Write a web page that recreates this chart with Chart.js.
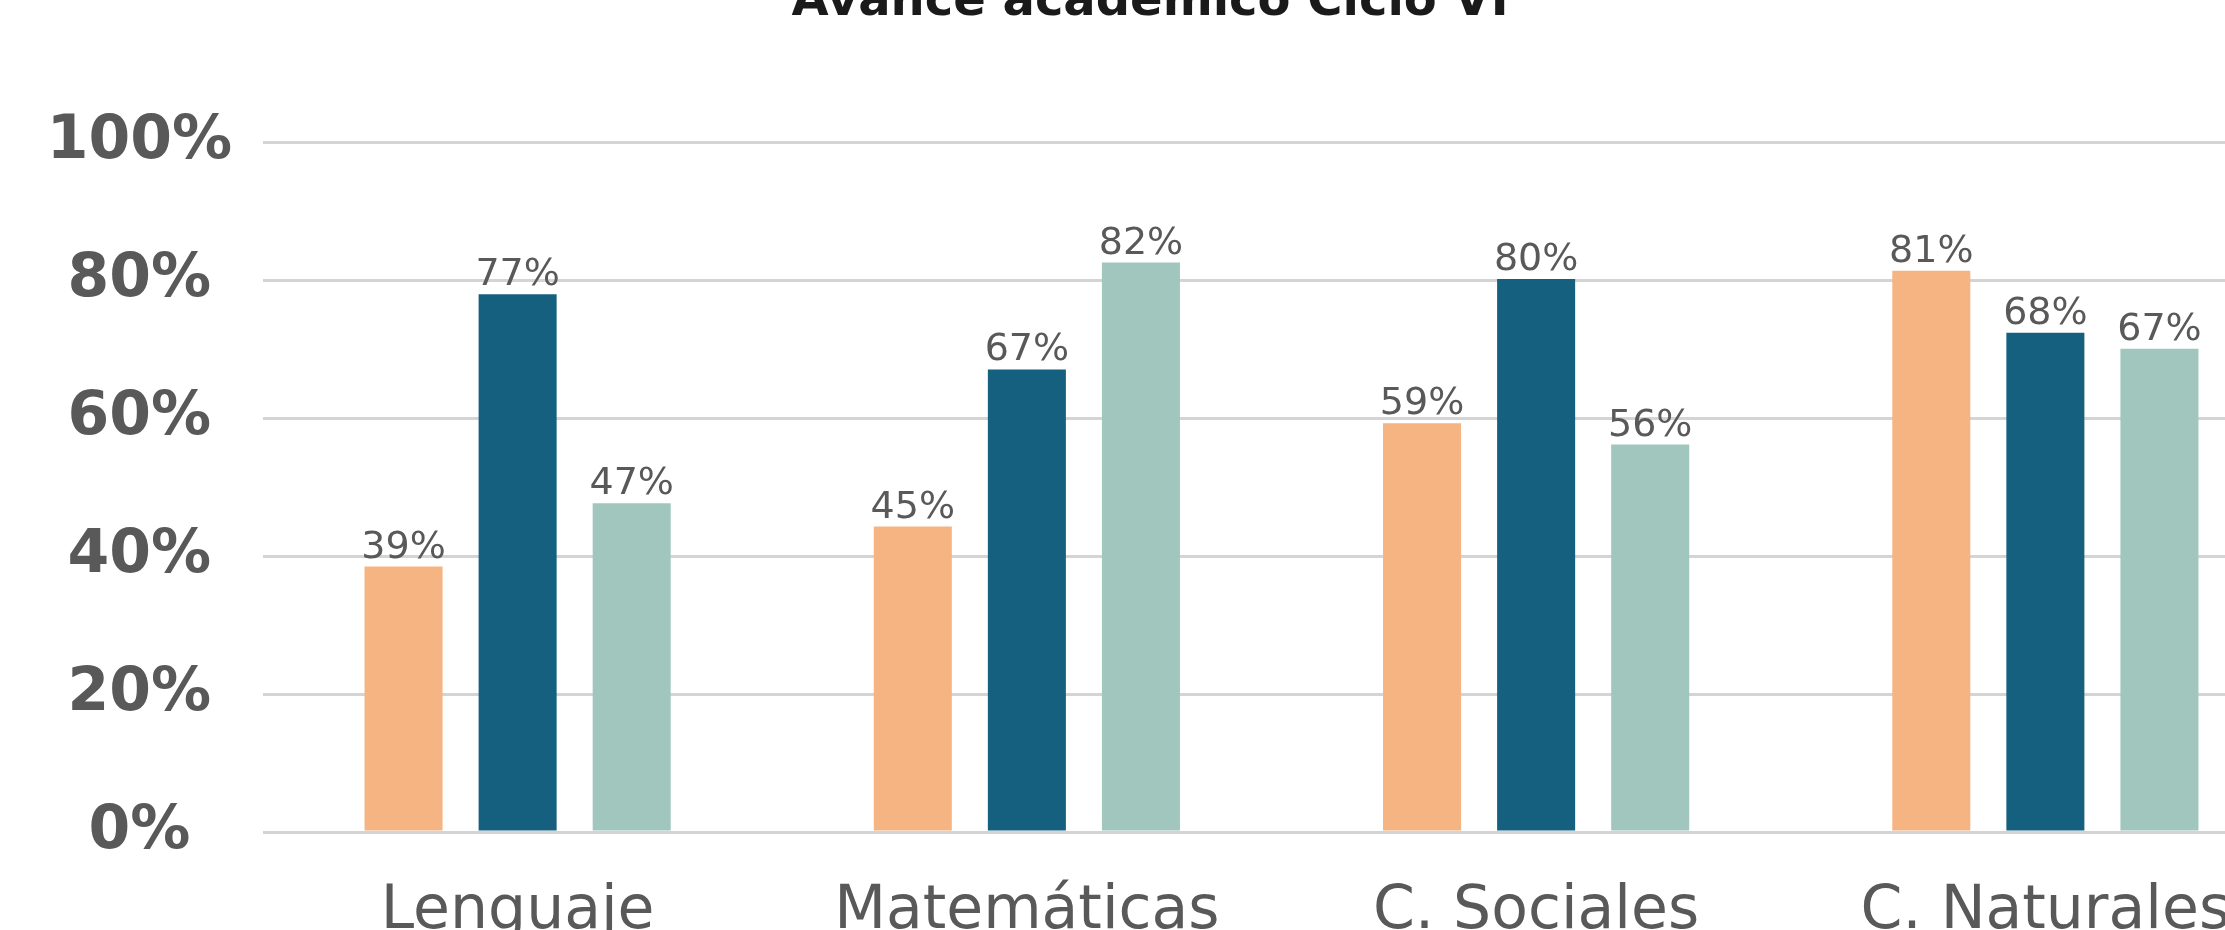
<!DOCTYPE html>
<html>
<head>
<meta charset="utf-8">
<title>Avance académico Ciclo VI</title>
<script src="https://cdn.jsdelivr.net/npm/chart.js@4"></script>
<style>
  html, body { margin: 0; padding: 0; background: #fff; overflow: hidden; }
  #wrap { position: absolute; left: 0; top: -36px; width: 2300px; height: 1020px; }
</style>
</head>
<body>
<div id="wrap"><canvas id="avanceChart"></canvas></div>
<script>
const materias = ['Lenguaje', 'Matemáticas', 'C. Sociales', 'C. Naturales'];

// bar heights (%)
const serie1 = [38.5, 44.3, 59.3, 81.4];
const serie2 = [78.0, 67.1, 80.2, 72.4];
const serie3 = [47.7, 82.6, 56.2, 70.1];

// numbers printed above the bars
const rotulos1 = [39, 45, 59, 81];
const rotulos2 = [77, 67, 80, 68];
const rotulos3 = [47, 82, 56, 67];

const yMax = 100;
const yStep = 20;

const grayText = '#595959';

// draw the value labels over each bar
const barLabels = {
  id: 'barLabels',
  afterDatasetsDraw(chart) {
    const ctx = chart.ctx;
    ctx.save();
    ctx.font = '38px "DejaVu Sans"';
    ctx.fillStyle = grayText;
    ctx.textAlign = 'center';
    ctx.textBaseline = 'alphabetic';
    chart.data.datasets.forEach((ds, i) => {
      chart.getDatasetMeta(i).data.forEach((bar, j) => {
        ctx.fillText(ds.rotulos[j] + '%', bar.x, bar.y - 9);
      });
    });
    ctx.restore();
  }
};

const ctx = document.getElementById('avanceChart').getContext('2d');
new Chart(ctx, {
  type: 'bar',
  data: {
    labels: materias,
    datasets: [
      { label: 'Serie 1', data: serie1, rotulos: rotulos1, backgroundColor: '#F5B482' },
      { label: 'Serie 2', data: serie2, rotulos: rotulos2, backgroundColor: '#16607F' },
      { label: 'Serie 3', data: serie3, rotulos: rotulos3, backgroundColor: '#A1C6BE' }
    ]
  },
  options: {
    responsive: true,
    maintainAspectRatio: false,
    animation: false,
    categoryPercentage: 0.672,
    barPercentage: 0.684,
    layout: { padding: 0 },
    plugins: {
      legend: { display: false },
      tooltip: { enabled: false },
      title: {
        display: true,
        text: 'Avance académico Ciclo VI',
        color: '#1a1a1a',
        font: { family: 'DejaVu Sans', weight: 'bold', size: 48 },
        padding: { top: 10, bottom: 111 }
      }
    },
    scales: {
      x: {
        grid: { display: false },
        border: { display: false },
        ticks: {
          color: grayText,
          padding: 36,
          font: { family: 'DejaVu Sans', size: 60 }
        }
      },
      y: {
        min: 0,
        max: yMax,
        border: { display: false },
        grid: { color: '#D4D4D4', lineWidth: 3, drawTicks: false },
        afterFit: (scale) => { scale.width = 263; },
        ticks: {
          stepSize: yStep,
          padding: 31,
          crossAlign: 'center',
          color: grayText,
          font: { family: 'DejaVu Sans', weight: 'bold', size: 60 },
          callback: (v) => v + '%'
        }
      }
    }
  },
  plugins: [barLabels]
});
</script>
</body>
</html>
